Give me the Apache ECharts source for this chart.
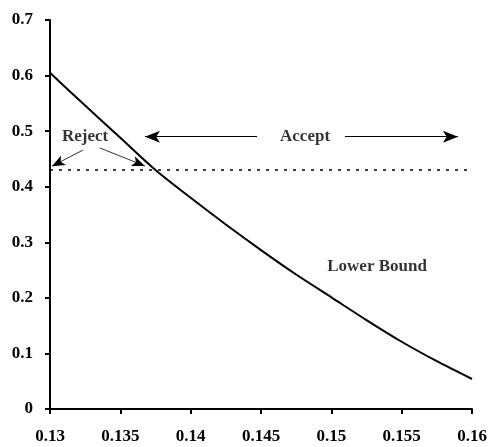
<!DOCTYPE html>
<html>
<head>
<meta charset="utf-8">
<script src="https://cdn.jsdelivr.net/npm/echarts@6/dist/echarts.min.js"></script>
<style>html,body{margin:0;padding:0;background:#fff}#c{width:493px;height:447px}</style>
</head>
<body>
<div id="c"></div>
<script>
// Data
var xValues = [0.13, 0.1325, 0.135, 0.1375, 0.14, 0.1425, 0.145, 0.1475, 0.15, 0.1525, 0.155, 0.1575, 0.16];
var lowerBound = [0.605, 0.546, 0.488, 0.43, 0.38, 0.332, 0.286, 0.242, 0.201, 0.16, 0.121, 0.086, 0.054];
var thresholdX = [0.13, 0.16];
var thresholdY = [0.43, 0.43];
var xTicks = ['0.13', '0.135', '0.14', '0.145', '0.15', '0.155', '0.16'];
var yTicks = ['0', '0.1', '0.2', '0.3', '0.4', '0.5', '0.6', '0.7'];
// Annotations (data coordinates)
var labelTexts = ['Reject', 'Accept', 'Lower Bound'];
var labelPos = [[0.13249, 0.491], [0.14813, 0.49], [0.15325, 0.2555]];
var rejectArrows = [
  [[0.13235, 0.466], [0.13014, 0.437]],
  [[0.13355, 0.4697], [0.13675, 0.4373]]
];
var acceptArrows = [
  [[0.14472, 0.49], [0.13675, 0.49]],
  [[0.15097, 0.49], [0.15900, 0.49]]
];

var font = 'Liberation Serif';
var chart = echarts.init(document.getElementById('c'));
function pairs(xs, ys) { return xs.map(function (x, i) { return [x, ys[i]]; }); }
function arrowData(list) {
  return list.map(function (a) { return [{ coord: a[0] }, { coord: a[1] }]; });
}
var axisLabelStyle = { color: '#000', fontFamily: font, fontWeight: 'bold', fontSize: 17 };
chart.setOption({
  animation: false,
  backgroundColor: '#fff',
  grid: { left: 50, right: 21, top: 20, bottom: 38 },
  xAxis: {
    type: 'value', min: 0.13, max: 0.16, interval: 0.005,
    axisLine: { lineStyle: { color: '#000', width: 2 } },
    axisTick: { show: true, length: 5, lineStyle: { color: '#000', width: 2 } },
    splitLine: { show: false },
    axisLabel: Object.assign({ margin: 19, formatter: function (v) {
      var i = Math.round((v - 0.13) / 0.005); return xTicks[i] || ''; } }, axisLabelStyle)
  },
  yAxis: {
    type: 'value', min: 0, max: 0.7, interval: 0.1,
    axisLine: { show: true, lineStyle: { color: '#000', width: 2 } },
    axisTick: { show: true, length: 5, lineStyle: { color: '#000', width: 2 } },
    splitLine: { show: false },
    axisLabel: Object.assign({ margin: 17, formatter: function (v) {
      var i = Math.round(v / 0.1); return yTicks[i] || ''; } }, axisLabelStyle)
  },
  series: [
    {
      type: 'line', data: pairs(xValues, lowerBound), smooth: 0.3, symbol: 'none',
      lineStyle: { color: '#000', width: 2 }, z: 3
    },
    {
      type: 'line', data: pairs(thresholdX, thresholdY), symbol: 'none',
      lineStyle: { color: '#000', width: 1.6, type: [3, 6] },
      markLine: {
        silent: true, symbol: ['none', 'arrow'], symbolSize: [9, 15],
        label: { show: false },
        lineStyle: { color: '#000', width: 1, type: 'solid' },
        data: arrowData(acceptArrows)
      }
    },
    {
      type: 'line', data: [], symbol: 'none',
      markLine: {
        silent: true, symbol: ['none', 'arrow'], symbolSize: [8, 13],
        label: { show: false },
        lineStyle: { color: '#000', width: 0.8, type: 'solid' },
        data: arrowData(rejectArrows)
      }
    },
    {
      type: 'scatter', symbolSize: 0,
      data: labelPos.map(function (p, i) { return { value: p, name: labelTexts[i] }; }),
      label: {
        show: true, position: 'inside', formatter: '{b}',
        color: '#000', fontFamily: font, fontWeight: 'bold', fontSize: 17
      }
    }
  ]
});
</script>
</body>
</html>
